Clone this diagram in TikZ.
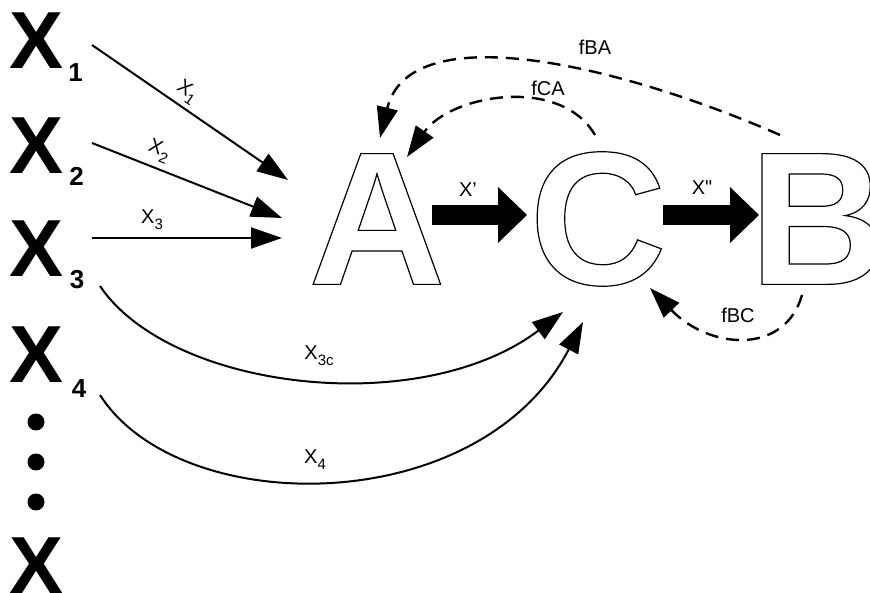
\documentclass[tikz,border=0pt]{standalone}
\usepackage{fontspec}
\setmainfont{Liberation Sans}
\newfontfamily\lblfont{Liberation Sans}
\usetikzlibrary{arrows.meta}
\newcommand\outlinetext[1]{\special{pdf:literal direct 1 Tr 1.2 w}#1\special{pdf:literal direct 0 Tr}}
\newcommand\subs[1]{\raisebox{-6pt}{\fontsize{15}{15}\selectfont #1}}
\begin{document}
\begin{tikzpicture}[x=1pt,y=-1pt,
  bigX/.style={inner sep=0pt, font=\fontsize{81}{81}\selectfont\bfseries},
  subnum/.style={inner sep=0pt, font=\fontsize{26}{26}\selectfont\bfseries},
  biglet/.style={inner sep=0pt, font=\fontsize{190}{190}\selectfont\bfseries},
  lbl/.style={inner sep=0pt, font=\lblfont\fontsize{20}{20}\selectfont},
  thinarrow/.style={line width=2pt, -{Triangle[length=31pt,width=21pt]}},
  fbarrow/.style={thinarrow, line width=2.4pt, dash pattern=on 13pt off 8pt},
  blockarrow/.style={line width=20pt, -{Triangle[length=29pt,width=56pt,line width=0pt]}},
  dotc/.style={circle, fill=black, inner sep=0pt, minimum size=17pt}]
\useasboundingbox (0,0) rectangle (870,593);
% left column
\node[bigX] (X1) at (36.5,41) {X};
\node[subnum] (n1) at (75.5,72.5) {1};
\node[bigX] (X2) at (36.5,146) {X};
\node[subnum] (n2) at (76.5,176) {2};
\node[bigX] (X3) at (36.5,248.5) {X};
\node[subnum] (n3) at (77,280) {3};
\node[bigX] (X4) at (37,355) {X};
\node[subnum] (n4) at (79,389) {4};
\node[dotc] (d1) at (36,422) {};
\node[dotc] (d2) at (36,462) {};
\node[dotc] (d3) at (36,502) {};
\node[bigX] (Xn) at (37,566) {X};
% big outlined letters
\node[biglet] (A) at (377,219) {\outlinetext{A}};
\node[biglet] (C) at (598,219) {\outlinetext{C}};
\node[biglet, anchor=west] (B) at (749,219) {\outlinetext{B}};
% connector end points
\coordinate (s1) at (92,45);   \coordinate (e1) at (288,180);
\coordinate (s2) at (92,143);  \coordinate (e2) at (282,218);
\coordinate (s3) at (92,238);  \coordinate (e3) at (282,238);
\coordinate (s3c) at (100,286); \coordinate (e3c) at (563,312);
\coordinate (s4) at (100,395); \coordinate (e4) at (583,322);
\coordinate (ac1) at (432,215); \coordinate (ac2) at (527,215);
\coordinate (cb1) at (663,215); \coordinate (cb2) at (759,215);
\coordinate (bA1) at (780,135); \coordinate (bA2) at (380,138);
\coordinate (cA1) at (595,135); \coordinate (cA2) at (407,157);
\coordinate (bC1) at (802,295); \coordinate (bC2) at (650,288);
% input arrows
\draw[thinarrow] (s1) -- (e1);
\draw[thinarrow] (s2) -- (e2);
\draw[thinarrow] (s3) -- (e3);
\draw[thinarrow] (s3c) .. controls (170,390) and (420,420) .. (e3c);
\draw[thinarrow] (s4) .. controls (180,520) and (480,520) .. (e4);
% block arrows
\draw[blockarrow] (ac1) -- (ac2);
\draw[blockarrow] (cb1) -- (cb2);
% feedback
\draw[fbarrow] (bA1) .. controls (620,65) and (410,15) .. (bA2);
\draw[fbarrow] (cA1) .. controls (560,75) and (450,95) .. (cA2);
\draw[fbarrow] (bC1) .. controls (785,355) and (710,350) .. (bC2);
% labels
\node[lbl, rotate=-34.6] (l1) at (187,92) {X\subs{1}};
\node[lbl, rotate=-21.5] (l2) at (159,151) {X\subs{2}};
\node[lbl] (l3) at (152,220) {X\subs{3}};
\node[lbl] (l3c) at (319,356) {X\subs{3c}};
\node[lbl] (l4) at (315,460) {X\subs{4}};
\node[lbl] (lxp) at (468,190) {X’};
\node[lbl] (lxpp) at (702,188) {X"};
\node[lbl] (lfBA) at (595,47) {fBA};
\node[lbl] (lfCA) at (548,88) {fCA};
\node[lbl] (lfBC) at (738,315) {fBC};
\end{tikzpicture}
\end{document}
